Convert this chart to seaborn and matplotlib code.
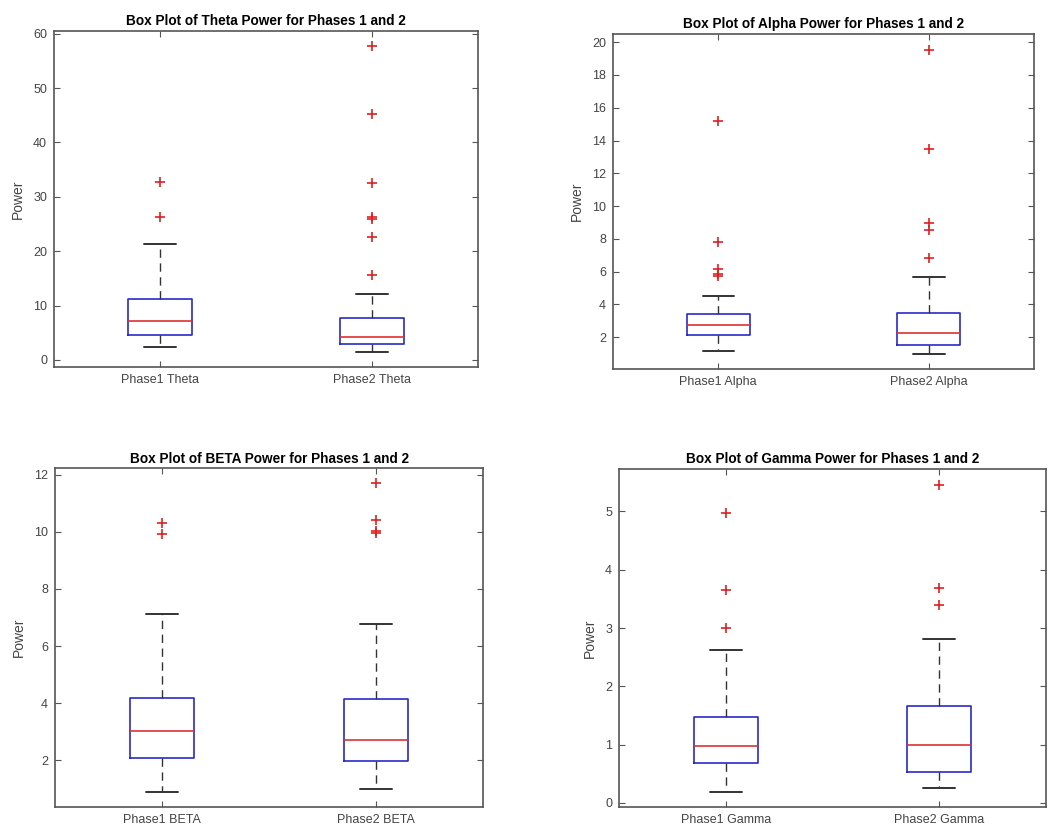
import matplotlib
matplotlib.use("Agg")
import matplotlib.pyplot as plt
import seaborn as sns

# ---- data (summary statistics per box) ----
bands = ["Theta", "Alpha", "BETA", "Gamma"]
titles = ["Box Plot of Theta Power for Phases 1 and 2",
          "Box Plot of Alpha Power for Phases 1 and 2",
          "Box Plot of BETA Power for Phases 1 and 2",
          "Box Plot of Gamma Power for Phases 1 and 2"]
tick_labels = [["Phase1 Theta", "Phase2 Theta"],
               ["Phase1 Alpha", "Phase2 Alpha"],
               ["Phase1 BETA", "Phase2 BETA"],
               ["Phase1 Gamma", "Phase2 Gamma"]]

theta_q1 = [4.6, 2.9]
theta_med = [7.15, 4.2]
theta_q3 = [11.3, 7.8]
theta_lo = [2.4, 1.5]
theta_hi = [21.4, 12.2]
theta_out = [[26.3, 32.8], [15.6, 22.7, 26.0, 26.2, 32.6, 45.3, 57.8]]

alpha_q1 = [2.14, 1.49]
alpha_med = [2.71, 2.24]
alpha_q3 = [3.39, 3.49]
alpha_lo = [1.18, 0.94]
alpha_hi = [4.51, 5.65]
alpha_out = [[5.71, 5.84, 6.18, 7.82, 15.22], [6.84, 8.53, 8.98, 13.5, 19.55]]

beta_q1 = [2.08, 1.98]
beta_med = [3.02, 2.71]
beta_q3 = [4.17, 4.14]
beta_lo = [0.89, 1.01]
beta_hi = [7.13, 6.77]
beta_out = [[9.93, 10.32], [9.97, 10.02, 10.41, 11.72]]

gamma_q1 = [0.69, 0.53]
gamma_med = [0.97, 1.0]
gamma_q3 = [1.48, 1.67]
gamma_lo = [0.18, 0.26]
gamma_hi = [2.62, 2.81]
gamma_out = [[3.0, 3.65, 4.98], [3.40, 3.69, 5.46]]

stats_sets = [
    (theta_q1, theta_med, theta_q3, theta_lo, theta_hi, theta_out),
    (alpha_q1, alpha_med, alpha_q3, alpha_lo, alpha_hi, alpha_out),
    (beta_q1, beta_med, beta_q3, beta_lo, beta_hi, beta_out),
    (gamma_q1, gamma_med, gamma_q3, gamma_lo, gamma_hi, gamma_out),
]

y_limits = [(-1.3, 60.5), (0.05, 20.5), (0.37, 12.23), (-0.07, 5.73)]
y_ticks = [list(range(0, 61, 10)), list(range(2, 21, 2)),
           list(range(2, 13, 2)), list(range(0, 6, 1))]

axes_rects = [
    [0.0511, 0.5578, 0.4011, 0.4049],
    [0.5800, 0.5554, 0.3983, 0.4036],
    [0.0520, 0.0277, 0.4050, 0.4083],
    [0.5856, 0.0277, 0.4040, 0.4073],
]

# ---- styling ----
sns.set_theme(style="white")
plt.rcParams["font.family"] = ["Liberation Sans", "DejaVu Sans"]

fig = plt.figure(figsize=(10.57, 8.30), dpi=100)
fig.patch.set_facecolor("white")

frame_col = "#555555"
text_col = "#444444"

for i in range(4):
    ax = fig.add_axes(axes_rects[i])
    q1, med, q3, lo, hi, out = stats_sets[i]
    bstats = []
    for j in range(2):
        bstats.append(dict(q1=q1[j], med=med[j], q3=q3[j], whislo=lo[j],
                           whishi=hi[j], fliers=out[j], label=tick_labels[i][j]))
    ax.bxp(bstats, positions=[1, 2], widths=0.3, showfliers=True,
           boxprops=dict(color="#2a2acc", linewidth=1.2),
           medianprops=dict(color="#e03030", linewidth=1.2),
           whiskerprops=dict(color="#333333", linewidth=1.0, linestyle=(0, (6, 4))),
           capprops=dict(color="#333333", linewidth=1.4),
           capwidths=0.15,
           flierprops=dict(marker="+", markeredgecolor="#e02020",
                           markersize=7, markeredgewidth=1.2, linestyle="none"))
    ax.set_xlim(0.5, 2.5)
    ax.set_ylim(*y_limits[i])
    ax.set_yticks(y_ticks[i])
    ax.set_xticks([1, 2])
    ax.set_xticklabels(tick_labels[i])
    ax.set_title(titles[i], fontsize=9.8, fontweight="bold", color="black", pad=4)
    ax.set_ylabel("Power", fontsize=10, color=text_col, labelpad=6)
    ax.tick_params(direction="in", length=4, width=0.8, colors=frame_col,
                   labelcolor=text_col, labelsize=9, top=True, right=True,
                   bottom=True, left=True, pad=5)
    ax.set_facecolor("white")
    for s in ax.spines.values():
        s.set_color(frame_col)
        s.set_linewidth(1.2)
        s.set_visible(True)

fig.savefig("out.png", dpi=100, facecolor="white")
